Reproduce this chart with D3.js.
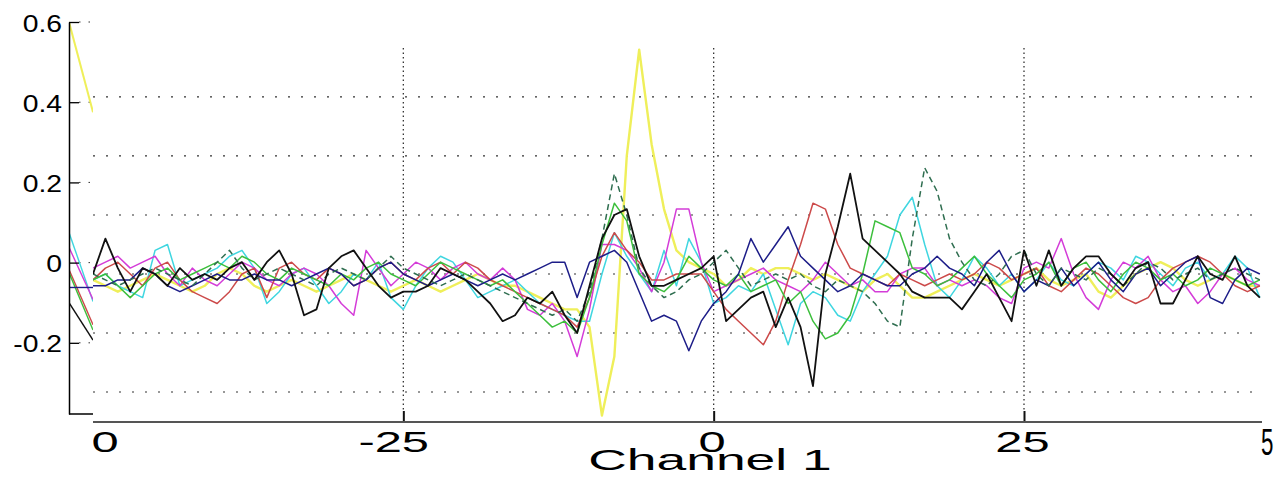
<!DOCTYPE html>
<html>
<head>
<meta charset="utf-8">
<script src="https://cdn.jsdelivr.net/npm/d3@7"></script>
<style>
  html, body { margin: 0; padding: 0; background: #fff; }
  svg { display: block; }
  text { font-family: "Liberation Sans", Arial, sans-serif; fill: #000; }
</style>
</head>
<body>
<svg id="chart" width="1285" height="478"></svg>
<script>
// ---- sample times (inner panel), one sample per unit ----
const time = d3.range(-50, 45);

// ---- waveforms of the inner panel (one value per sample) ----
const yellowWave = [-1,-2,-3,-2,-1, 0,-1,-2,-3,-2, 0,1,0,-2,-3, -2,-1,-2,-3,-2,
  -1,0,-1,-2,-3, -2,-1,-2,-3,-2, -1,0,-1,-2,-2, -3,-4,-5,-6,
  -6,-9,-24,-14,20,38,22,11,4,2,1,
  0,-2,-1,1,0,1,1,0,-1,0, -1,-2,-3,-1,0,-2,-4,-4,-3,-2, -1,0,-1,-2,-1,0,1,-1,-2,-1,
  0,-3,-4,-2,0,1,2,1,-1,-2, -1,0,-1,-2,-2];
const cyanWave = [-1,0,-2,-3,-4, 4,5,-2,-1,0, 1,3,4,1,-5, -3,0,1,-2,-5, -3,0,-1,2,-4,
  -6,-2,1,3,2, -1,-4,-3,-2,-1, -3,-5,-6,-7,-8, -8,0,7,3,0, -3,4,-2,6,2,
  -5,-4,-2,-3,0, -6,-12,-5,-3,-4, -7,-8,-3,0,3, 10,13,5,-2,-4, -1,3,1,-2,0,
  -3,-1,2,-1,-2, 0,2,1,-1,3, 2,0,-2,1,2, -1,0,3,1,-4];
const magentaWave = [1,2,3,1,2, 3,0,-2,1,-1, -2,0,2,1,-1, -2,0,1,0,-2, -5,-7,4,1,-2,
  0,2,1,-1,1, 2,0,-1,1,-1, -6,-7,-5,-8,-14, -6,5,5,4,1, -3,2,11,11,2,
  -3,-2,-1,0,1, -1,-2,-3,-1,2, 0,-2,-1,-3,-3, 0,1,1,-2,-1, -2,-1,-2,-4,-5,
  1,2,1,6,0, -4,-6,-1,2,1, 3,-1,-3,-2,-5, -3,0,1,-1,-2];
const redWave = [-1,1,2,0,-2, 1,2,-1,-3,-4, -5,-3,0,1,-4, 1,2,0,-1,1, 0,-2,-1,1,2,
  0,-1,1,2,0, 2,1,-1,-2,-3, -4,-5,-6,-7,-9, -4,3,7,4,2, -1,-1,0,0,0,
  -3,-6,-8,-10,-12, -8,-1,5,12,11, 5,1,0,-1,-2, 0,-1,-2,-1,0, -1,0,2,1,-1,
  0,1,-2,-3,-1, 1,0,-2,-4,-5, -4,-1,1,2,3, 2,0,-2,-3,-2];
const greenWave = [-1,0,-2,-4,-2, 0,1,-1,0,1, 2,1,3,2,0, -1,1,0,-1,-2, 0,-1,1,2,0,
  -1,-2,0,2,1, 0,-1,-2,-1,-3, -5,-7,-9,-8,-10, -4,5,12,9,0, -2,-3,-1,3,1,
  -1,-2,0,-3,-2, -1,-5,-3,-8,-11, -10,-7,0,9,8, 7,1,0,-2,-1, 1,3,0,-2,-4,
  -1,0,2,-2,1, 2,-1,-3,0,2, 1,-1,0,-2,-1, 1,0,-1,-2,-1];
const navyWave = [-2,-2,-1,-1,1, 0,-2,-3,-2,-1, 0,-1,-1,0,-1, -1,-2,-1,0,1, 0,-2,-1,1,2,
  0,-1,-2,-1,0, -1,-2,-1,0,-1, 0,1,2,2,-4, 2,3,4,2,-3, -8,-7,-8,-13,-8,
  -5,-3,0,6,2, 5,8,3,1,-1, -3,-2,0,-1,-2, -2,0,1,3,1, 0,-2,2,4,0,
  -3,-1,-2,1,-2, 0,2,-1,-3,0, 1,-2,0,2,3, -4,-5,-1,1,0];
const dashedWave = [0,-1,-2,-1,0, 1,0,-1,-2,0, 2,4,1,-1,0, 1,0,-1,-2,0, 1,0,-1,1,3,
  1,0,-1,-2,-1, 0,-1,-2,-3,-4, -5,-6,-7,-6,-8, -3,6,17,10,1, -2,-4,-3,-1,0,
  2,4,1,-2,-1, 0,-1,0,-2,-3, -1,-2,-3,-5,-8, -9,6,18,14,6, 2,-1,-2,0,3,
  4,0,-2,1,0, -1,1,0,-2,0, 2,1,-1,0,1, -1,0,1,0,-1];
const blackWave = [0,6,1,-3,1, 0,-2,1,-1,0, -1,1,2,-1,2, 4,0,-7,-6,1, 3,4,1,-2,-4,
  -3,-3,-2,1,0, -1,-3,-5,-8,-7, -4,-5,-3,-7,-10, -2,6,10,11,3, -2,-2,-1,0,1,
  3,-8,-6,-4,-3, -9,-4,-9,-19,0, 8,17,6,4,2, 0,-3,-4,-4,-4, -6,-3,0,-4,-8,
  4,-2,4,-2,1, 3,3,0,-2,1, 2,-5,-5,-1,3, 0,-1,3,-2,-4];

// ---- first two samples of the outer panel traces ----
const outerTime = [0, 1];
const outerYellow  = [0.6, 0.375];
const outerCyan    = [0.075, -0.097];
const outerMagenta = [0.038, -0.092];
const outerRed     = [-0.017, -0.155];
const outerGreen   = [-0.025, -0.168];
const outerNavy    = [-0.062, -0.062];
const outerBlack   = [-0.1, -0.193];

// ---- ticks and labels ----
const outerYTicks = [0.6, 0.4, 0.2, 0, -0.2];
const outerYLabels = ["0.6", "0.4", "0.2", "0", "-0.2"];
const innerXTicks = [-50, -25, 0, 25];
const innerXLabels = ["-50", "-25", "0", "25"];
const innerYTicks = [-20, -10, 0, 10, 20, 30];
const innerGridX = [-25, 0, 25];
const edgeLabel = "5";
const xAxisTitle = "Channel 1";

const svg = d3.select("#chart");

// scales
const xInner = d3.scaleLinear().domain([-50, 25]).range([93, 1024]);
const yInner = d3.scaleLinear().domain([-25, 38.4]).range([421.5, 47.4]);
const xOuter = d3.scaleLinear().domain([0, 1]).range([69, 93]);
const yOuter = d3.scaleLinear().domain([-0.3775, 0.6]).range([414, 22]);
const innerRight = 1262;
const axisY = 422;

const defs = svg.append("defs");
defs.append("clipPath").attr("id", "innerClip")
  .append("rect").attr("x", 93).attr("y", 40).attr("width", innerRight - 93).attr("height", axisY - 40);
defs.append("clipPath").attr("id", "outerClip")
  .append("rect").attr("x", 69).attr("y", 0).attr("width", 24).attr("height", 414);
// expressed in the bottom-axis group's own coordinates (origin on the axis line)
defs.append("clipPath").attr("id", "labelClip")
  .append("rect").attr("x", 93).attr("y", -20).attr("width", 1285 - 93).attr("height", 80);

// ================= outer panel =================
const outer = svg.append("g");

// dotted grid stubs of the outer panel
outer.append("g").selectAll("line").data(outerYTicks).join("line")
  .attr("x1", 79).attr("x2", 93)
  .attr("y1", d => yOuter(d)).attr("y2", d => yOuter(d))
  .attr("stroke", "#333").attr("stroke-width", 1)
  .attr("stroke-dasharray", "1.5,8");

const outerLine = d3.line().x((d, i) => xOuter(outerTime[i])).y(d => yOuter(d));
const outerSeries = [
  [outerYellow, "#efef5a", 2],
  [outerCyan, "#3fd6e0", 1.4],
  [outerMagenta, "#d43cd8", 1.4],
  [outerRed, "#cc4a4a", 1.4],
  [outerGreen, "#3cbf3c", 1.4],
  [outerNavy, "#1d1d88", 1.4],
  [outerBlack, "#111", 1.4]
];
outer.append("g").attr("clip-path", "url(#outerClip)")
  .selectAll("path").data(outerSeries).join("path")
  .attr("d", d => outerLine(d[0]))
  .attr("fill", "none").attr("stroke", d => d[1]).attr("stroke-width", d => d[2]);

// left axis
const yAxisOuter = d3.axisLeft(yOuter).tickValues(outerYTicks)
  .tickFormat((d, i) => outerYLabels[i]).tickSizeInner(-10).tickSizeOuter(0).tickPadding(7);
const gyo = outer.append("g").attr("transform", "translate(69,0)").call(yAxisOuter);
gyo.select(".domain").attr("stroke", "#000").attr("stroke-width", 1.5);
gyo.selectAll(".tick line").attr("stroke", "#000").attr("stroke-width", 1.3);
gyo.selectAll(".tick text")
  .attr("font-size", 24).attr("dy", "0.38em")
  .attr("x", -7 / 1.18).attr("transform", "scale(1.18,1)");
outer.append("line").attr("x1", 69).attr("x2", 93).attr("y1", 414).attr("y2", 414)
  .attr("stroke", "#000").attr("stroke-width", 1.5);

// ================= inner panel =================
const inner = svg.append("g");
inner.append("rect").attr("x", 93).attr("y", 0).attr("width", innerRight - 93).attr("height", axisY)
  .attr("fill", "#fff");

// dotted grid
inner.append("g").selectAll("line").data(innerYTicks).join("line")
  .attr("x1", 93).attr("x2", innerRight)
  .attr("y1", d => yInner(d)).attr("y2", d => yInner(d))
  .attr("stroke", "#333").attr("stroke-width", 1.2)
  .attr("stroke-dasharray", "2,11");
inner.append("g").selectAll("line").data(innerGridX).join("line")
  .attr("x1", d => xInner(d)).attr("x2", d => xInner(d))
  .attr("y1", 48).attr("y2", axisY - 11)
  .attr("stroke", "#333").attr("stroke-width", 1.3)
  .attr("stroke-dasharray", "1.5,3");

// waveforms
const waveLine = d3.line().x((d, i) => xInner(time[i])).y(d => yInner(d));
const waves = [
  { v: yellowWave,  c: "#efef5a", w: 2.4 },
  { v: cyanWave,    c: "#3fd6e0", w: 1.5 },
  { v: magentaWave, c: "#d43cd8", w: 1.5 },
  { v: redWave,     c: "#cc4a4a", w: 1.5 },
  { v: greenWave,   c: "#3cbf3c", w: 1.5 },
  { v: navyWave,    c: "#1d1d88", w: 1.5 },
  { v: dashedWave,  c: "#2f6e50", w: 1.5, dash: "6,4" },
  { v: blackWave,   c: "#111",    w: 1.8 }
];
inner.append("g").attr("clip-path", "url(#innerClip)")
  .selectAll("path").data(waves).join("path")
  .attr("d", d => waveLine(d.v))
  .attr("fill", "none")
  .attr("stroke", d => d.c)
  .attr("stroke-width", d => d.w)
  .attr("stroke-linejoin", "round")
  .attr("stroke-dasharray", d => d.dash || null);

// bottom axis
const xAxisInner = d3.axisBottom(xInner).tickValues(innerXTicks)
  .tickFormat((d, i) => innerXLabels[i]).tickSizeInner(-11).tickSizeOuter(0).tickPadding(9);
const gx = inner.append("g").attr("transform", `translate(0,${axisY})`).call(xAxisInner);
gx.select(".domain").remove();
gx.selectAll(".tick line")
  .attr("stroke", "#111").attr("stroke-width", 2)
  .attr("opacity", d => d === xInner.domain()[0] ? 0 : 1);
const sx = 1.63;
gx.selectAll(".tick text")
  .attr("font-size", 30)
  .attr("text-anchor", "end")
  .attr("x", d => {
    const digits = String(d).replace("-", "").length;
    return (13.6 * digits - 2) / sx;
  })
  .attr("transform", `scale(${sx},1)`);
gx.attr("clip-path", "url(#labelClip)");
inner.append("line").attr("x1", 93).attr("x2", innerRight).attr("y1", axisY).attr("y2", axisY)
  .attr("stroke", "#555").attr("stroke-width", 2.2);

// right edge label and axis title
svg.append("text").text(edgeLabel)
  .attr("font-size", 36)
  .attr("transform", `translate(${innerRight - 1},455) scale(0.62,1)`);
svg.append("text").text(xAxisTitle)
  .attr("font-size", 30).attr("text-anchor", "middle")
  .attr("transform", "translate(710,470) scale(1.78,1)");
</script>
</body>
</html>
